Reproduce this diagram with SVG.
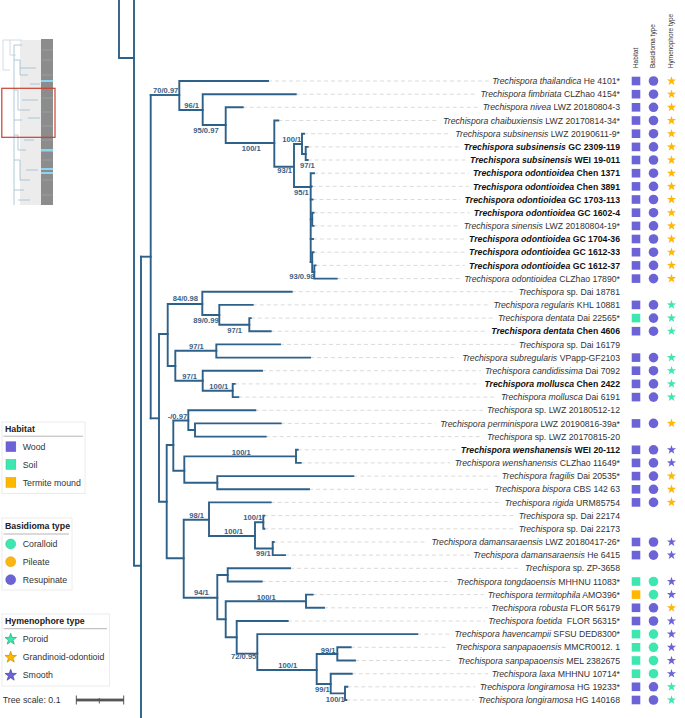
<svg xmlns="http://www.w3.org/2000/svg" xmlns:xlink="http://www.w3.org/1999/xlink" width="685" height="718" viewBox="0 0 685 718">
<style>
.t{font-family:"Liberation Sans",Arial,sans-serif;font-size:8.7px;fill:#333;text-anchor:end}
.b{font-weight:bold;fill:#111}
.i{font-style:italic}
.br path{fill:none;stroke:#2e6189;stroke-width:1.9;stroke-linecap:square}
.sl{font-family:"Liberation Sans",Arial,sans-serif;font-size:7.6px;font-weight:bold;fill:#3a6186}
.ld line{stroke:#dadada;stroke-width:1;stroke-dasharray:4 3}
.hd{font-family:"Liberation Sans",Arial,sans-serif;font-size:6.4px;fill:#333}
.lt{font-family:"Liberation Sans",Arial,sans-serif;font-size:8.8px;fill:#333}
.lh{font-family:"Liberation Sans",Arial,sans-serif;font-size:8.8px;font-weight:bold;fill:#222}
.box{fill:#fff;stroke:#ececec;stroke-width:1}
.ul{stroke:#b5b5b5;stroke-width:1}
.w{fill:#6c63d7}
.s{fill:#3ee6b0}
.m{fill:#ffb700}
.g{fill:#ffb700}
</style>
<defs>
<rect id="sq" x="-4.3" y="-4.3" width="8.6" height="8.6"/>
<circle id="ci" r="4.8"/>
<path id="st" d="M0,-4.8 L1.13,-1.55 L4.56,-1.48 L1.83,0.59 L2.82,3.88 L0,1.92 L-2.82,3.88 L-1.83,0.59 L-4.56,-1.48 L-1.13,-1.55 Z"/>
<path id="stL" d="M0,-6 L1.41,-1.94 L5.71,-1.85 L2.28,0.74 L3.53,4.85 L0,2.4 L-3.53,4.85 L-2.28,0.74 L-5.71,-1.85 L-1.41,-1.94 Z"/>
</defs>
<rect width="685" height="718" fill="#fff"/>

<!-- thumbnail -->
<g id="thumbnail">
<rect x="20" y="40" width="22" height="165" fill="#ececec"/>
<rect x="41" y="39" width="12" height="166" fill="#8c8c8c"/>
<g stroke="#a9a9a9" stroke-width="0.6">
<path d="M42 50H53M42 60H52M42 75H53M42 98H53M42 112H52M42 126H53M42 140H53M42 160H53M42 180H53M42 195H53" fill="none"/>
</g>
<g fill="#8fd3f2">
<rect x="41" y="80" width="12" height="2"/>
<rect x="41" y="149" width="12" height="2.5"/>
<rect x="41" y="168" width="12" height="2"/>
<rect x="41" y="172" width="12" height="2"/>
</g>
<g fill="none" stroke="#c9d3da" stroke-width="0.8">
<path d="M3 40V70H10M3 40H10V55H16M10 40H22"/>
</g>
<g fill="none" stroke="#9fbbd0" stroke-width="0.8">
<path d="M14 45V205M14 45H22M14 60H20V75H28M14 90H18V110H30M14 120H22M14 135H18V150H26M14 160H20V180H30M14 190H24M20 68H36M22 100H38M24 140H34M26 170H38M18 200H30M30 84H40M28 118H40"/>
</g>
<rect x="1.8" y="88.3" width="53.2" height="49" fill="none" stroke="#c8412f" stroke-width="1.2"/>
</g>

<!-- column headers -->
<g id="headers">
<text class="hd" transform="translate(637.8,68) rotate(-90)">Habitat</text>
<text class="hd" transform="translate(655.3,68) rotate(-90)">Basidioma type</text>
<text class="hd" transform="translate(673.3,68) rotate(-90)">Hymenophore type</text>
</g>

<!-- leader lines -->
<g id="leaders" class="ld">
<line x1="268" y1="81" x2="488.7" y2="81"/>
<line x1="295.7" y1="94.2" x2="476.3" y2="94.2"/>
<line x1="242.7" y1="107.3" x2="478.7" y2="107.3"/>
<line x1="278.3" y1="120.5" x2="438" y2="120.5"/>
<line x1="304" y1="133.7" x2="451" y2="133.7"/>
<line x1="307.7" y1="146.9" x2="459.3" y2="146.9"/>
<line x1="307.7" y1="160" x2="465.3" y2="160"/>
<line x1="314" y1="173.2" x2="468.7" y2="173.2"/>
<line x1="311.7" y1="186.4" x2="468.7" y2="186.4"/>
<line x1="312.5" y1="199.5" x2="460.3" y2="199.5"/>
<line x1="313.5" y1="212.7" x2="469.7" y2="212.7"/>
<line x1="313.5" y1="225.9" x2="459.7" y2="225.9"/>
<line x1="313" y1="239" x2="464.7" y2="239"/>
<line x1="313.5" y1="252.2" x2="464.7" y2="252.2"/>
<line x1="315.5" y1="265.4" x2="464.7" y2="265.4"/>
<line x1="336.7" y1="278.6" x2="460.3" y2="278.6"/>
<line x1="291.7" y1="291.7" x2="515.3" y2="291.7"/>
<line x1="252.7" y1="304.9" x2="489.3" y2="304.9"/>
<line x1="250.7" y1="318.1" x2="493.7" y2="318.1"/>
<line x1="270.7" y1="331.2" x2="487" y2="331.2"/>
<line x1="280" y1="344.4" x2="515.3" y2="344.4"/>
<line x1="310" y1="357.6" x2="457.7" y2="357.6"/>
<line x1="262" y1="370.7" x2="481" y2="370.7"/>
<line x1="234.7" y1="383.9" x2="480.3" y2="383.9"/>
<line x1="238.3" y1="397.1" x2="497" y2="397.1"/>
<line x1="255.3" y1="410.3" x2="483" y2="410.3"/>
<line x1="280.7" y1="423.4" x2="435.3" y2="423.4"/>
<line x1="265.7" y1="436.6" x2="483" y2="436.6"/>
<line x1="297.7" y1="449.8" x2="456.3" y2="449.8"/>
<line x1="300.7" y1="462.9" x2="450.3" y2="462.9"/>
<line x1="353.3" y1="476.1" x2="498" y2="476.1"/>
<line x1="309" y1="489.3" x2="490.3" y2="489.3"/>
<line x1="270.7" y1="502.4" x2="501" y2="502.4"/>
<line x1="264.3" y1="515.6" x2="515.3" y2="515.6"/>
<line x1="264.3" y1="528.8" x2="515.3" y2="528.8"/>
<line x1="273.5" y1="542" x2="427" y2="542"/>
<line x1="285" y1="555.1" x2="469.7" y2="555.1"/>
<line x1="290" y1="568.3" x2="521.3" y2="568.3"/>
<line x1="261.7" y1="581.5" x2="452" y2="581.5"/>
<line x1="312.7" y1="594.6" x2="483.7" y2="594.6"/>
<line x1="324" y1="607.8" x2="487.7" y2="607.8"/>
<line x1="287.7" y1="621" x2="485.3" y2="621"/>
<line x1="417.3" y1="634.1" x2="450.3" y2="634.1"/>
<line x1="350.7" y1="647.3" x2="448.7" y2="647.3"/>
<line x1="355" y1="660.5" x2="453" y2="660.5"/>
<line x1="351.7" y1="673.7" x2="488" y2="673.7"/>
<line x1="347.3" y1="686.8" x2="475.3" y2="686.8"/>
<line x1="346" y1="700" x2="474.3" y2="700"/>
</g>

<!-- branches -->
<g id="branches" class="br">
<path d="M119 0V58H134"/>
<path d="M134 0V565.7H141"/>
<path d="M141 256.7V718"/>
<path d="M141 256.7H150.7"/>
<path d="M150.7 95V418.3"/>
<path d="M150.7 95H179.3"/>
<path d="M150.7 418.3H159"/>
<!-- upper clade -->
<path d="M268 81H179.3V110H202.7"/>
<path d="M295.7 94.2H202.7V125H225.7"/>
<path d="M242.7 107.3H225.7V143H274.3"/>
<path d="M278.3 120.5H274.3V166.7H294"/>
<path d="M302 144H294V187H310.7"/>
<path d="M304 133.7H302V154H305.7"/>
<path d="M307.7 146.9H305.7V160H307.7"/>
<path d="M314 173.2H310.7V262.1"/>
<path d="M310.7 186.4H311.7"/>
<path d="M310.7 199.5H312.5"/>
<path d="M310.7 219.3H312.2"/>
<path d="M313.5 212.7H312.2V225.9H313.5"/>
<path d="M310.7 239H313"/>
<path d="M310.7 262.1H312.2"/>
<path d="M313.5 252.2H312.2V272H314.3"/>
<path d="M315.5 265.4H314.3V278.6H336.7"/>
<!-- middle clade -->
<path d="M167.7 334H159V501.7H166.7"/>
<path d="M202.3 304H167.7V366H175.3"/>
<path d="M291.7 291.7H202.3V315H219.3"/>
<path d="M252.7 304.9H219.3V324.7H249.3"/>
<path d="M250.7 318.1H249.3V331.2H270.7"/>
<path d="M216.3 350.7H175.3V380.7H202.7"/>
<path d="M280 344.4H216.3V357.6H310"/>
<path d="M262 370.7H202.7V390.7H232.7"/>
<path d="M234.7 383.9H232.7V397.1H238.3"/>
<path d="M173.3 445H166.7V558.3H183.7"/>
<path d="M188.3 420.5H173.3V470.7H184.3"/>
<path d="M255.3 410.3H188.3V430H195"/>
<path d="M280.7 423.4H195V436.6H265.7"/>
<path d="M296 456.4H184.3V482.7H217.3"/>
<path d="M297.7 449.8H296V462.9H300.7"/>
<path d="M353.3 476.1H217.3V489.3H309"/>
<!-- lower clade -->
<path d="M209 519.7H183.7V597.7H217.3"/>
<path d="M270.7 502.4H209V536H255"/>
<path d="M263.3 522.2H255V548.5H272.7"/>
<path d="M264.3 515.6H263.3V528.8H264.3"/>
<path d="M273.7 542H272.7V555.1H285"/>
<path d="M227.7 575H217.3V619.3H225.7"/>
<path d="M290 568.3H227.7V581.5H261.7"/>
<path d="M306 601.2H225.7V637.3H236.7"/>
<path d="M312.7 594.6H306V607.8H324"/>
<path d="M287.7 621H236.7V653.6H257.3"/>
<path d="M417.3 634.1H257.3V670H316.7"/>
<path d="M337.3 654H316.7V684H330.7"/>
<path d="M350.7 647.3H337.3V660.5H355"/>
<path d="M351.7 673.7H330.7V693.4H345"/>
<path d="M347.3 686.8H345V700H346.3"/>
</g>

<!-- support values -->
<g id="support" class="sl">
<text x="153" y="93.4">70/0.97</text>
<text x="184.3" y="107.7">96/1</text>
<text x="193.3" y="133.4">95/0.97</text>
<text x="241.7" y="151">100/1</text>
<text x="282.3" y="142">100/1</text>
<text x="277.3" y="172.7">93/1</text>
<text x="300" y="167.7">97/1</text>
<text x="294" y="195">95/1</text>
<text x="289.3" y="279.4">93/0.98</text>
<text x="172.7" y="301">84/0.98</text>
<text x="193.3" y="322.7">89/0.99</text>
<text x="227.3" y="332.7">97/1</text>
<text x="189" y="348.7">97/1</text>
<text x="182.3" y="378.7">97/1</text>
<text x="209.3" y="388.7">100/1</text>
<text x="167.7" y="418.7">-/0.97</text>
<text x="231.7" y="455">100/1</text>
<text x="189.3" y="517.7">98/1</text>
<text x="224" y="534.4">100/1</text>
<text x="243.3" y="520">100/1</text>
<text x="256" y="556">99/1</text>
<text x="194" y="595.4">94/1</text>
<text x="256.7" y="600">100/1</text>
<text x="231" y="659.4">72/0.95</text>
<text x="278.3" y="667.7">100/1</text>
<text x="320.7" y="652.7">99/1</text>
<text x="315" y="692">99/1</text>
<text x="325.7" y="702">100/1</text>
</g>

<!-- leaves -->
<g id="leaf-1" transform="translate(0,81)"><text class="t" x="620" y="3.1"><tspan class="i">Trechispora thailandica</tspan> He 4101*</text><use href="#sq" x="636" class="w"/><use href="#ci" x="653.5" class="w"/><use href="#st" x="671.5" class="g"/></g>
<g id="leaf-2" transform="translate(0,94.2)"><text class="t" x="620" y="3.1"><tspan class="i">Trechispora fimbriata</tspan> CLZhao 4154*</text><use href="#sq" x="636" class="w"/><use href="#ci" x="653.5" class="w"/><use href="#st" x="671.5" class="g"/></g>
<g id="leaf-3" transform="translate(0,107.3)"><text class="t" x="620" y="3.1"><tspan class="i">Trechispora nivea</tspan> LWZ 20180804-3</text><use href="#sq" x="636" class="w"/><use href="#ci" x="653.5" class="w"/><use href="#st" x="671.5" class="g"/></g>
<g id="leaf-4" transform="translate(0,120.5)"><text class="t" x="620" y="3.1"><tspan class="i">Trechispora chaibuxiensis</tspan> LWZ 20170814-34*</text><use href="#sq" x="636" class="w"/><use href="#ci" x="653.5" class="w"/><use href="#st" x="671.5" class="g"/></g>
<g id="leaf-5" transform="translate(0,133.7)"><text class="t" x="620" y="3.1"><tspan class="i">Trechispora subsinensis</tspan> LWZ 20190611-9*</text><use href="#sq" x="636" class="w"/><use href="#ci" x="653.5" class="w"/><use href="#st" x="671.5" class="g"/></g>
<g id="leaf-6" transform="translate(0,146.9)"><text class="t b" x="620" y="3.1"><tspan class="i">Trechispora subsinensis</tspan> GC 2309-119</text><use href="#sq" x="636" class="w"/><use href="#ci" x="653.5" class="w"/><use href="#st" x="671.5" class="g"/></g>
<g id="leaf-7" transform="translate(0,160)"><text class="t b" x="620" y="3.1"><tspan class="i">Trechispora subsinensis</tspan> WEI 19-011</text><use href="#sq" x="636" class="w"/><use href="#ci" x="653.5" class="w"/><use href="#st" x="671.5" class="g"/></g>
<g id="leaf-8" transform="translate(0,173.2)"><text class="t b" x="620" y="3.1"><tspan class="i">Trechispora odontioidea</tspan> Chen 1371</text><use href="#sq" x="636" class="w"/><use href="#ci" x="653.5" class="w"/><use href="#st" x="671.5" class="g"/></g>
<g id="leaf-9" transform="translate(0,186.4)"><text class="t b" x="620" y="3.1"><tspan class="i">Trechispora odontioidea</tspan> Chen 3891</text><use href="#sq" x="636" class="w"/><use href="#ci" x="653.5" class="w"/><use href="#st" x="671.5" class="g"/></g>
<g id="leaf-10" transform="translate(0,199.5)"><text class="t b" x="620" y="3.1"><tspan class="i">Trechispora odontioidea</tspan> GC 1703-113</text><use href="#sq" x="636" class="w"/><use href="#ci" x="653.5" class="w"/><use href="#st" x="671.5" class="g"/></g>
<g id="leaf-11" transform="translate(0,212.7)"><text class="t b" x="620" y="3.1"><tspan class="i">Trechispora odontioidea</tspan> GC 1602-4</text><use href="#sq" x="636" class="w"/><use href="#ci" x="653.5" class="w"/><use href="#st" x="671.5" class="g"/></g>
<g id="leaf-12" transform="translate(0,225.9)"><text class="t" x="620" y="3.1"><tspan class="i">Trechispora sinensis</tspan> LWZ 20180804-19*</text><use href="#sq" x="636" class="w"/><use href="#ci" x="653.5" class="w"/><use href="#st" x="671.5" class="g"/></g>
<g id="leaf-13" transform="translate(0,239)"><text class="t b" x="620" y="3.1"><tspan class="i">Trechispora odontioidea</tspan> GC 1704-36</text><use href="#sq" x="636" class="w"/><use href="#ci" x="653.5" class="w"/><use href="#st" x="671.5" class="g"/></g>
<g id="leaf-14" transform="translate(0,252.2)"><text class="t b" x="620" y="3.1"><tspan class="i">Trechispora odontioidea</tspan> GC 1612-33</text><use href="#sq" x="636" class="w"/><use href="#ci" x="653.5" class="w"/><use href="#st" x="671.5" class="g"/></g>
<g id="leaf-15" transform="translate(0,265.4)"><text class="t b" x="620" y="3.1"><tspan class="i">Trechispora odontioidea</tspan> GC 1612-37</text><use href="#sq" x="636" class="w"/><use href="#ci" x="653.5" class="w"/><use href="#st" x="671.5" class="g"/></g>
<g id="leaf-16" transform="translate(0,278.6)"><text class="t" x="620" y="3.1"><tspan class="i">Trechispora odontioidea</tspan> CLZhao 17890*</text><use href="#sq" x="636" class="w"/><use href="#ci" x="653.5" class="w"/><use href="#st" x="671.5" class="g"/></g>
<g id="leaf-17" transform="translate(0,291.7)"><text class="t" x="620" y="3.1"><tspan class="i">Trechispora</tspan> sp. Dai 18781</text></g>
<g id="leaf-18" transform="translate(0,304.9)"><text class="t" x="620" y="3.1"><tspan class="i">Trechispora regularis</tspan> KHL 10881</text><use href="#sq" x="636" class="w"/><use href="#ci" x="653.5" class="w"/><use href="#st" x="671.5" class="s"/></g>
<g id="leaf-19" transform="translate(0,318.1)"><text class="t" x="620" y="3.1"><tspan class="i">Trechispora dentata</tspan> Dai 22565*</text><use href="#sq" x="636" class="s"/><use href="#ci" x="653.5" class="w"/><use href="#st" x="671.5" class="s"/></g>
<g id="leaf-20" transform="translate(0,331.2)"><text class="t b" x="620" y="3.1"><tspan class="i">Trechispora dentata</tspan> Chen 4606</text><use href="#sq" x="636" class="w"/><use href="#ci" x="653.5" class="w"/><use href="#st" x="671.5" class="s"/></g>
<g id="leaf-21" transform="translate(0,344.4)"><text class="t" x="620" y="3.1"><tspan class="i">Trechispora</tspan> sp. Dai 16179</text></g>
<g id="leaf-22" transform="translate(0,357.6)"><text class="t" x="620" y="3.1"><tspan class="i">Trechispora subregularis</tspan> VPapp-GF2103</text><use href="#sq" x="636" class="w"/><use href="#ci" x="653.5" class="w"/><use href="#st" x="671.5" class="s"/></g>
<g id="leaf-23" transform="translate(0,370.7)"><text class="t" x="620" y="3.1"><tspan class="i">Trechispora candidissima</tspan> Dai 7092</text><use href="#sq" x="636" class="w"/><use href="#ci" x="653.5" class="w"/><use href="#st" x="671.5" class="s"/></g>
<g id="leaf-24" transform="translate(0,383.9)"><text class="t b" x="620" y="3.1"><tspan class="i">Trechispora mollusca</tspan> Chen 2422</text><use href="#sq" x="636" class="w"/><use href="#ci" x="653.5" class="w"/><use href="#st" x="671.5" class="s"/></g>
<g id="leaf-25" transform="translate(0,397.1)"><text class="t" x="620" y="3.1"><tspan class="i">Trechispora mollusca</tspan> Dai 6191</text><use href="#sq" x="636" class="w"/><use href="#ci" x="653.5" class="w"/><use href="#st" x="671.5" class="s"/></g>
<g id="leaf-26" transform="translate(0,410.3)"><text class="t" x="620" y="3.1"><tspan class="i">Trechispora</tspan> sp. LWZ 20180512-12</text></g>
<g id="leaf-27" transform="translate(0,423.4)"><text class="t" x="620" y="3.1"><tspan class="i">Trechispora perminispora</tspan> LWZ 20190816-39a*</text><use href="#sq" x="636" class="w"/><use href="#ci" x="653.5" class="w"/><use href="#st" x="671.5" class="g"/></g>
<g id="leaf-28" transform="translate(0,436.6)"><text class="t" x="620" y="3.1"><tspan class="i">Trechispora</tspan> sp. LWZ 20170815-20</text></g>
<g id="leaf-29" transform="translate(0,449.8)"><text class="t b" x="620" y="3.1"><tspan class="i">Trechispora wenshanensis</tspan> WEI 20-112</text><use href="#sq" x="636" class="w"/><use href="#ci" x="653.5" class="w"/><use href="#st" x="671.5" class="w"/></g>
<g id="leaf-30" transform="translate(0,462.9)"><text class="t" x="620" y="3.1"><tspan class="i">Trechispora wenshanensis</tspan> CLZhao 11649*</text><use href="#sq" x="636" class="w"/><use href="#ci" x="653.5" class="w"/><use href="#st" x="671.5" class="w"/></g>
<g id="leaf-31" transform="translate(0,476.1)"><text class="t" x="620" y="3.1"><tspan class="i">Trechispora fragilis</tspan> Dai 20535*</text><use href="#sq" x="636" class="w"/><use href="#ci" x="653.5" class="w"/><use href="#st" x="671.5" class="g"/></g>
<g id="leaf-32" transform="translate(0,489.3)"><text class="t" x="620" y="3.1"><tspan class="i">Trechispora bispora</tspan> CBS 142 63</text><use href="#sq" x="636" class="w"/><use href="#ci" x="653.5" class="w"/><use href="#st" x="671.5" class="g"/></g>
<g id="leaf-33" transform="translate(0,502.4)"><text class="t" x="620" y="3.1"><tspan class="i">Trechispora rigida</tspan> URM85754</text><use href="#sq" x="636" class="w"/><use href="#ci" x="653.5" class="w"/><use href="#st" x="671.5" class="g"/></g>
<g id="leaf-34" transform="translate(0,515.6)"><text class="t" x="620" y="3.1"><tspan class="i">Trechispora</tspan> sp. Dai 22174</text></g>
<g id="leaf-35" transform="translate(0,528.8)"><text class="t" x="620" y="3.1"><tspan class="i">Trechispora</tspan> sp. Dai 22173</text></g>
<g id="leaf-36" transform="translate(0,542)"><text class="t" x="620" y="3.1"><tspan class="i">Trechispora damansaraensis</tspan> LWZ 20180417-26*</text><use href="#sq" x="636" class="w"/><use href="#ci" x="653.5" class="w"/><use href="#st" x="671.5" class="w"/></g>
<g id="leaf-37" transform="translate(0,555.1)"><text class="t" x="620" y="3.1"><tspan class="i">Trechispora damansaraensis</tspan> He 6415</text><use href="#sq" x="636" class="w"/><use href="#ci" x="653.5" class="w"/><use href="#st" x="671.5" class="w"/></g>
<g id="leaf-38" transform="translate(0,568.3)"><text class="t" x="620" y="3.1"><tspan class="i">Trechispora</tspan> sp. ZP-3658</text></g>
<g id="leaf-39" transform="translate(0,581.5)"><text class="t" x="620" y="3.1"><tspan class="i">Trechispora tongdaoensis</tspan> MHHNU 11083*</text><use href="#sq" x="636" class="s"/><use href="#ci" x="653.5" class="s"/><use href="#st" x="671.5" class="w"/></g>
<g id="leaf-40" transform="translate(0,594.6)"><text class="t" x="620" y="3.1"><tspan class="i">Trechispora termitophila</tspan> AMO396*</text><use href="#sq" x="636" class="m"/><use href="#ci" x="653.5" class="s"/><use href="#st" x="671.5" class="w"/></g>
<g id="leaf-41" transform="translate(0,607.8)"><text class="t" x="620" y="3.1"><tspan class="i">Trechispora robusta</tspan> FLOR 56179</text><use href="#sq" x="636" class="w"/><use href="#ci" x="653.5" class="w"/><use href="#st" x="671.5" class="g"/></g>
<g id="leaf-42" transform="translate(0,621)"><text class="t" x="620" y="3.1" xml:space="preserve"><tspan class="i">Trechispora foetida</tspan>  FLOR 56315*</text><use href="#sq" x="636" class="w"/><use href="#ci" x="653.5" class="w"/><use href="#st" x="671.5" class="w"/></g>
<g id="leaf-43" transform="translate(0,634.1)"><text class="t" x="620" y="3.1"><tspan class="i">Trechispora havencampii</tspan> SFSU DED8300*</text><use href="#sq" x="636" class="s"/><use href="#ci" x="653.5" class="s"/><use href="#st" x="671.5" class="w"/></g>
<g id="leaf-44" transform="translate(0,647.3)"><text class="t" x="620" y="3.1"><tspan class="i">Trechispora sanpapaoensis</tspan> MMCR0012. 1</text><use href="#sq" x="636" class="s"/><use href="#ci" x="653.5" class="s"/><use href="#st" x="671.5" class="w"/></g>
<g id="leaf-45" transform="translate(0,660.5)"><text class="t" x="620" y="3.1"><tspan class="i">Trechispora sanpapaoensis</tspan> MEL 2382675</text><use href="#sq" x="636" class="s"/><use href="#ci" x="653.5" class="s"/><use href="#st" x="671.5" class="w"/></g>
<g id="leaf-46" transform="translate(0,673.7)"><text class="t" x="620" y="3.1"><tspan class="i">Trechispora laxa</tspan> MHHNU 10714*</text><use href="#sq" x="636" class="s"/><use href="#ci" x="653.5" class="s"/><use href="#st" x="671.5" class="w"/></g>
<g id="leaf-47" transform="translate(0,686.8)"><text class="t" x="620" y="3.1"><tspan class="i">Trechispora longiramosa</tspan> HG 19233*</text><use href="#sq" x="636" class="w"/><use href="#ci" x="653.5" class="w"/><use href="#st" x="671.5" class="s"/></g>
<g id="leaf-48" transform="translate(0,700)"><text class="t" x="620" y="3.1"><tspan class="i">Trechispora longiramosa</tspan> HG 140168</text><use href="#sq" x="636" class="w"/><use href="#ci" x="653.5" class="w"/><use href="#st" x="671.5" class="s"/></g>

<!-- legends -->
<g id="legend-habitat">
<rect class="box" x="2" y="422" width="83" height="71.5"/>
<text class="lh" x="5" y="432.3">Habitat</text>
<line class="ul" x1="3.5" y1="436.2" x2="83" y2="436.2"/>
<rect x="6" y="441.8" width="9.8" height="9.8" class="w" stroke="#5a52b8" stroke-width="0.5"/>
<text class="lt" x="22.7" y="449.8">Wood</text>
<rect x="6" y="459.5" width="9.8" height="9.8" class="s" stroke="#2fc493" stroke-width="0.5"/>
<text class="lt" x="22.7" y="467.5">Soil</text>
<rect x="6" y="477.5" width="9.8" height="9.8" class="m" stroke="#d89a00" stroke-width="0.5"/>
<text class="lt" x="22.7" y="485.5">Termite mound</text>
</g>
<g id="legend-basidioma">
<rect class="box" x="2" y="518" width="70" height="72"/>
<text class="lh" x="5" y="529">Basidioma type</text>
<line class="ul" x1="3.5" y1="534" x2="69" y2="534"/>
<circle cx="10.7" cy="544" r="5" fill="#3ee6b0" stroke="#2fc493" stroke-width="0.5"/>
<text class="lt" x="22.7" y="547.1">Coralloid</text>
<circle cx="10.7" cy="561.7" r="5" fill="#fdb515" stroke="#d89a00" stroke-width="0.5"/>
<text class="lt" x="22.7" y="564.8">Pileate</text>
<circle cx="10.7" cy="579.7" r="5" fill="#6c63d7" stroke="#5a52b8" stroke-width="0.5"/>
<text class="lt" x="22.7" y="582.8">Resupinate</text>
</g>
<g id="legend-hymenophore">
<rect class="box" x="2" y="614" width="107.5" height="72"/>
<text class="lh" x="5" y="623.8">Hymenophore type</text>
<line class="ul" x1="3.5" y1="628.7" x2="107" y2="628.7"/>
<use href="#stL" x="10.7" y="639.3" fill="#3ee6b0" stroke="#23a67c" stroke-width="0.7"/>
<text class="lt" x="22.7" y="642.1">Poroid</text>
<use href="#stL" x="10.7" y="657.3" fill="#ffb700" stroke="#c98e00" stroke-width="0.7"/>
<text class="lt" x="22.7" y="660.1">Grandinoid-odontioid</text>
<use href="#stL" x="10.7" y="675.3" fill="#6c63d7" stroke="#4a43a8" stroke-width="0.7"/>
<text class="lt" x="22.7" y="678.1">Smooth</text>
</g>
<g id="tree-scale">
<text class="lt" x="2.7" y="703.2" fill="#444">Tree scale: 0.1</text>
<rect x="76" y="698.6" width="48" height="2.8" fill="#555"/>
<path d="M76.3 695.5V704.5M99.3 698V703.5M123.7 695.5V704.5" stroke="#555" stroke-width="1" fill="none"/>
</g>
</svg>
